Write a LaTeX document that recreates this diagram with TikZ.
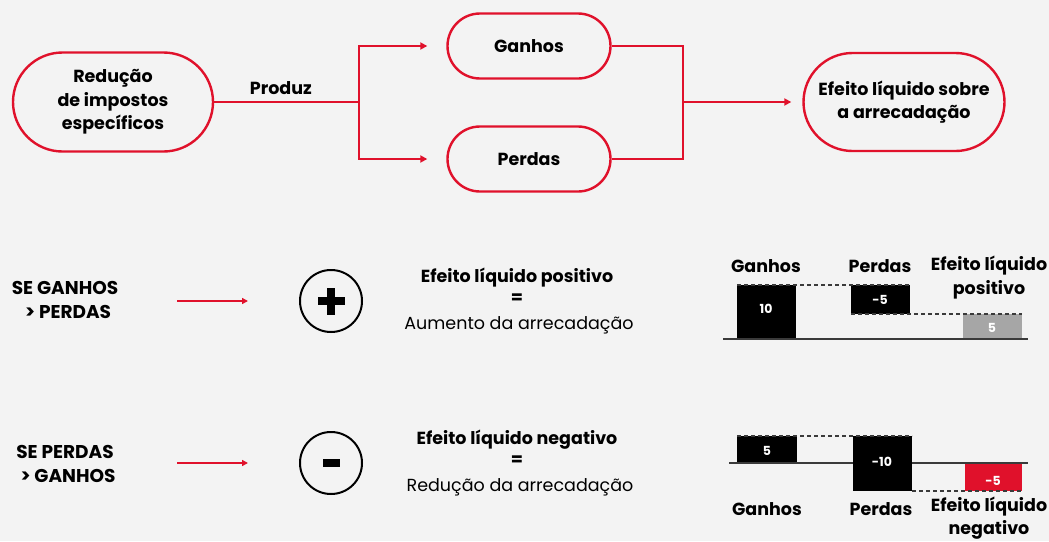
\documentclass[tikz,border=0pt]{standalone}
\usepackage{fontspec}
\setmainfont{Poppins}
\usetikzlibrary{positioning,arrows.meta,calc,shapes.misc}
\definecolor{fundo}{HTML}{F3F3F3}
\definecolor{rubro}{HTML}{E0112B}
\definecolor{cinza}{HTML}{A6A6A6}
\definecolor{eixo}{HTML}{3A3A3A}

\begin{document}
\begin{tikzpicture}[x=1pt,y=-1pt,
  pill/.style={rounded rectangle,draw=rubro,line width=2.4pt,fill=fundo,align=center,
    inner sep=0pt,font=\bfseries\fontsize{17.5}{23.5}\selectfont},
  liga/.style={rubro,line width=2pt},
  seta/.style={liga,-{Triangle[length=7pt,width=7pt]}},
  rotulo/.style={font=\bfseries\fontsize{17.5}{24}\selectfont,align=center,inner sep=0pt},
  valor/.style={font=\bfseries\fontsize{12.5}{14}\selectfont,text=white,inner sep=0pt},
  nivel/.style={eixo,line width=1.1pt,dash pattern=on 4pt off 3pt},
  base/.style={eixo,line width=1.3pt}]
  \fill[fundo] (0,0) rectangle (1049,541);
  \useasboundingbox (0,0) rectangle (1049,541);

  % fluxo de cima
  \node[pill,minimum width=200pt,minimum height=99pt] (reducao) at (113,102) {Redução\\de impostos\\específicos};
  \node[pill,minimum width=163pt,minimum height=65pt] (ganhos) at (529,46) {Ganhos};
  \node[pill,minimum width=163pt,minimum height=65pt] (perdas) at (529,159) {Perdas};
  \node[pill,minimum width=201pt,minimum height=98pt] (efeito) at (904,102) {Efeito líquido sobre\\a arrecadação};
  \coordinate (ramo) at (359,102);
  \coordinate (junta) at (683,102);
  \draw[liga] (reducao.east) -- (ramo);
  \node[rotulo,above=7pt of $(reducao.east)!0.46!(ramo)$] (produz) {Produz};
  \draw[seta,shorten >=19pt] (ramo) |- (ganhos);
  \draw[seta,shorten >=19pt] (ramo) |- (perdas);
  \draw[liga] (ganhos.east) -| (junta);
  \draw[liga] (perdas.east) -| (junta);
  \draw[seta,shorten >=11pt] (junta) -- (efeito.west);

  % caso positivo
  \node[rotulo,font=\bfseries\fontsize{18.5}{24}\selectfont] (seganhos) at (65,300) {SE GANHOS\\\,\,> PERDAS};
  \coordinate (s1a) at (177,301);
  \coordinate (s1b) at (248,301);
  \draw[rubro,line width=1.6pt,-{Triangle[length=6pt,width=6pt]}] (s1a) -- (s1b);
  \node[circle,draw,line width=2pt,minimum size=62pt,inner sep=0pt] (mais) at (331,301) {};
  \fill ($(mais)+(-13.5,-4)$) rectangle ($(mais)+(13.5,4)$);
  \fill ($(mais)+(-4,-13.5)$) rectangle ($(mais)+(4,13.5)$);
  \node[rotulo] (positivo) at (517,278) {Efeito líquido positivo};
  \node[rotulo] (igual1) at (517,299) {=};
  \node[font=\fontsize{17.5}{20}\selectfont,inner sep=0pt] (aumento) at (519,325) {Aumento da arrecadação};

  % barras do caso positivo
  \fill (737,285) rectangle (796,339);
  \fill (851,285) rectangle (910,314);
  \fill[cinza] (963,314) rectangle (1022,339);
  \draw[nivel] (737,285) -- (910,285);
  \draw[nivel] (851,314) -- (1022,314);
  \draw[base] (723,339) -- (1028,339);
  \node[valor] (v10) at (766,309) {10};
  \node[valor] (vm5) at (880,300) {-5};
  \node[valor] (v5) at (992,328) {5};
  \node[rotulo] (g1) at (766,266) {Ganhos};
  \node[rotulo] (p1) at (880,266) {Perdas};
  \node[rotulo] (e1) at (989,278) {Efeito líquido\\positivo};

  % caso negativo
  \node[rotulo,font=\bfseries\fontsize{18.5}{24}\selectfont] (seperdas) at (65,464) {SE PERDAS\\\,\,> GANHOS};
  \coordinate (s2a) at (177,463);
  \coordinate (s2b) at (248,463);
  \draw[rubro,line width=1.6pt,-{Triangle[length=6pt,width=6pt]}] (s2a) -- (s2b);
  \node[circle,draw,line width=2pt,minimum size=62pt,inner sep=0pt] (menos) at (331,463) {};
  \fill ($(menos)+(-8.5,-4)$) rectangle ($(menos)+(8.5,4)$);
  \node[rotulo] (negativo) at (517,440) {Efeito líquido negativo};
  \node[rotulo] (igual2) at (517,461) {=};
  \node[font=\fontsize{17.5}{20}\selectfont,inner sep=0pt] (reducaoarr) at (520,487) {Redução da arrecadação};

  % barras do caso negativo
  \fill (737,436) rectangle (797,463);
  \fill (853,436) rectangle (912,491);
  \fill[rubro] (965,463) rectangle (1022,491);
  \draw[nivel] (737,436) -- (912,436);
  \draw[nivel] (912,491) -- (1022,491);
  \draw[base] (729,463) -- (853,463);
  \draw[base] (912,463) -- (1028,463);
  \node[valor] (w5) at (767,451) {5};
  \node[valor] (wm10) at (882,462) {-10};
  \node[valor] (wm5) at (993,481) {-5};
  \node[rotulo] (g2) at (767,509) {Ganhos};
  \node[rotulo] (p2) at (881,509) {Perdas};
  \node[rotulo,font=\bfseries\fontsize{17.5}{22.5}\selectfont] (e2) at (989,518) {Efeito líquido\\negativo};
\end{tikzpicture}
\end{document}
